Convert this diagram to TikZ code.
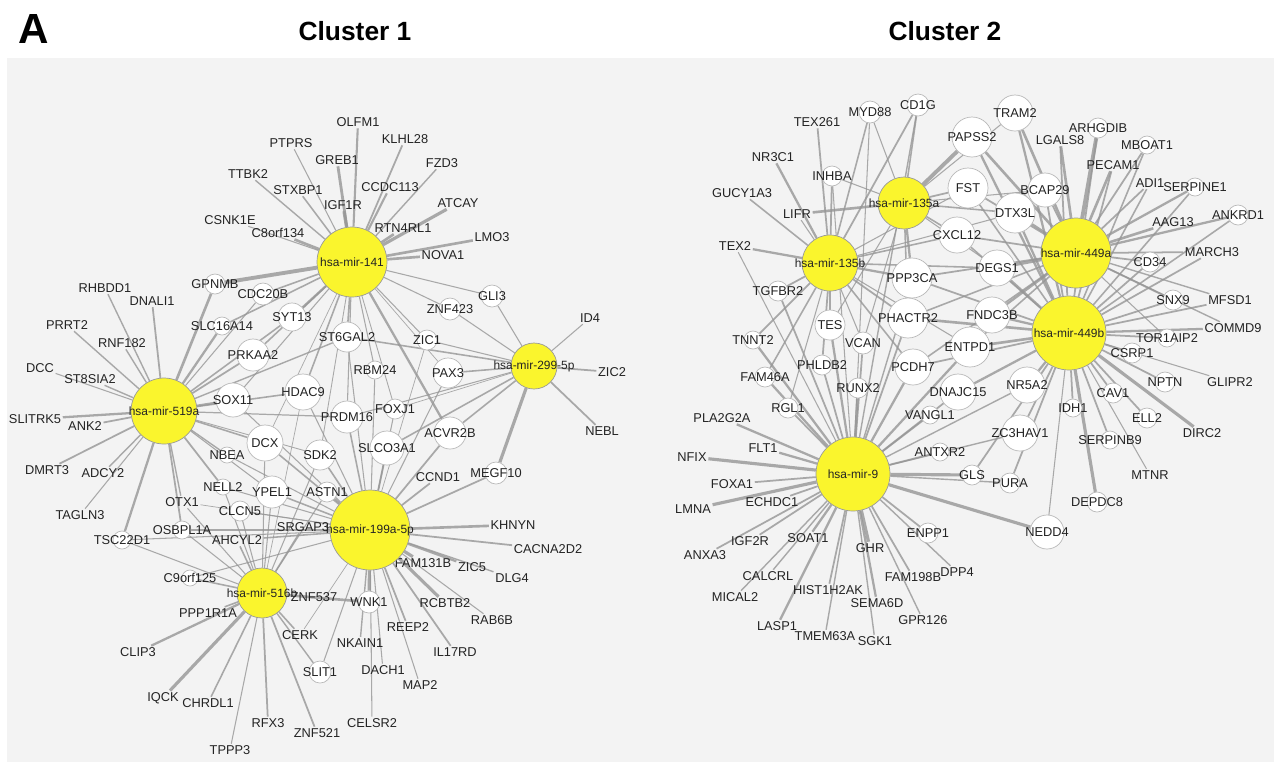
\documentclass[tikz,border=0pt]{standalone}
\usepackage{fontspec}
\setmainfont{Liberation Sans}
\pgfdeclarelayer{edges}
\pgfsetlayers{edges,main}
\newlength\pxu
\setlength\pxu{0.02cm}
\definecolor{panelgray}{RGB}{243,243,243}
\definecolor{edgegray}{RGB}{150,150,150}
\definecolor{hubfill}{RGB}{250,245,45}
\definecolor{ringgray}{RGB}{185,185,185}
\definecolor{genetext}{RGB}{35,35,35}
\newcommand\genefont{\fontsize{7.3}{8.5}\selectfont}
\newcommand\hubfont{\fontsize{6.8}{8}\selectfont}
\begin{document}
\begin{tikzpicture}[x=0.02cm, y=-0.02cm,
    hub/.style={circle, draw=gray!80, fill=hubfill, inner sep=0pt, minimum size=#1\pxu},
    gene/.style={circle, draw=ringgray, fill=white, inner sep=0pt, minimum size=#1\pxu},
    lbl/.style={inner sep=0.8pt, font=\genefont, text=genetext},
    link/.style={draw=edgegray, opacity=0.8},
    every label/.style={font=\genefont, text=genetext, inner sep=0pt},
    clustertitle/.style={font=\fontsize{15}{18}\selectfont\bfseries}]
  \useasboundingbox (0,0) rectangle (1274,762);

  \node[font=\fontsize{24}{28}\selectfont\bfseries] (panelA) at (34,29) {A};
  \node[clustertitle] (title1) at (355,31) {Cluster 1};
  \node[clustertitle] (title2) at (945,31) {Cluster 2};

  % targets shown as text only
  \foreach \nm/\xx/\yy in {PTPRS/291/143, OLFM1/358/122, KLHL28/405/139, GREB1/337/160,
      FZD3/442/163, TTBK2/248/174, STXBP1/298/190, CCDC113/390/187, IGF1R/343/205,
      ATCAY/458/203, CSNK1E/230/220, RTN4RL1/403/228, C8orf134/278/233, LMO3/492/237,
      NOVA1/443/255, RHBDD1/105/288, DNALI1/152/301, ID4/590/318, PRRT2/67/325,
      RNF182/122/343, DCC/40/368, ZIC2/612/372, ST8SIA2/90/379, SLITRK5/35/419,
      ANK2/85/426, NEBL/602/431, DMRT3/47/470, ADCY2/103/473, CCND1/438/477,
      OTX1/182/502, TAGLN3/80/515, KHNYN/513/525, SRGAP3/303/527, AHCYL2/237/540,
      CACNA2D2/548/549, FAM131B/423/563, ZIC5/472/567, DLG4/512/578, ZNF537/314/597,
      RCBTB2/445/603, PPP1R1A/208/613, RAB6B/492/620, REEP2/408/627, CERK/300/635,
      NKAIN1/360/643, CLIP3/138/652, IL17RD/455/652, DACH1/383/670, MAP2/420/685,
      IQCK/163/698, CHRDL1/208/703, RFX3/268/723, CELSR2/372/723, ZNF521/317/733,
      TPPP3/230/750,
      TEX261/817/122, LGALS8/1060/140, NR3C1/773/157, PECAM1/1113/165, ADI1/1150/183,
      GUCY1A3/742/193, LIFR/797/214, AAG13/1173/222, TEX2/735/246, MARCH3/1212/252,
      MFSD1/1230/300, COMMD9/1233/328, GLIPR2/1230/382, PLA2G2A/722/418, DIRC2/1202/433,
      FLT1/763/448, NFIX/692/457, MTNR/1150/475, FOXA1/732/484, ECHDC1/772/502,
      LMNA/693/509, SOAT1/808/538, IGF2R/750/541, GHR/870/548, ANXA3/705/555,
      DPP4/957/572, CALCRL/768/576, FAM198B/913/577, HIST1H2AK/828/590, SEMA6D/877/603,
      MICAL2/735/597, GPR126/923/620, LASP1/777/626, TMEM63A/825/636, SGK1/875/641}
    \node[lbl] (\nm) at (\xx,\yy) {\nm};

  % targets drawn as circles
  \foreach \nm/\xx/\yy/\sz in {GPNMB/215/284/20, CDC20B/263/294/22, GLI3/492/296/22,
      ZNF423/450/309/22, SYT13/292/317/28, SLC16A14/222/326/18, ST6GAL2/347/337/30,
      ZIC1/427/340/20, PRKAA2/253/355/32, RBM24/375/370/18, PAX3/448/373/30,
      HDAC9/303/392/36, SOX11/233/400/34, FOXJ1/395/409/20, PRDM16/347/417/32,
      ACVR2B/450/433/32, DCX/265/443/36, SLCO3A1/387/448/34, NBEA/227/455/16,
      SDK2/320/455/30, MEGF10/496/473/22, NELL2/223/487/16, ASTN1/327/492/20,
      YPEL1/272/492/32, CLCN5/240/511/20, OSBPL1A/182/530/18, TSC22D1/122/540/18,
      C9orf125/190/578/16, WNK1/369/602/22, SLIT1/320/672/22,
      CD1G/918/105/22, MYD88/870/112/22, TRAM2/1015/113/36, ARHGDIB/1098/128/20,
      PAPSS2/972/137/40, MBOAT1/1147/145/18, INHBA/832/176/20, FST/968/188/40,
      SERPINE1/1195/187/18, BCAP29/1045/190/34, DTX3L/1015/213/40, ANKRD1/1238/215/20,
      CXCL12/957/235/36, CD34/1150/262/20, DEGS1/997/268/36, PPP3CA/912/278/40,
      TGFBR2/778/291/20, SNX9/1173/300/20, FNDC3B/992/315/36, PHACTR2/908/318/40,
      TES/830/325/30, TOR1AIP2/1167/338/18, TNNT2/753/340/18, VCAN/863/343/22,
      ENTPD1/970/347/40, CSRP1/1132/353/20, PHLDB2/822/365/20, PCDH7/913/367/36,
      FAM46A/765/377/20, NPTN/1165/382/20, NR5A2/1027/385/36, RUNX2/858/388/20,
      DNAJC15/958/392/36, CAV1/1113/393/20, IDH1/1073/408/18, RGL1/788/408/20,
      VANGL1/930/415/18, ELL2/1147/418/20, ZC3HAV1/1020/433/36, SERPINB9/1110/440/18,
      ANTXR2/940/452/18, GLS/972/475/20, PURA/1010/483/20, DEPDC8/1097/502/20,
      NEDD4/1047/532/34, ENPP1/928/533/20}
    \node[gene=\sz, label=center:\nm] (\nm) at (\xx,\yy) {};

  % microRNAs
  \foreach \nm/\xx/\yy/\sz/\txt in {m141/352/262/70/hsa-mir-141, m519/164/411/66/hsa-mir-519a,
      m299/534/366/46/hsa-mir-299-5p, m199/370/530/80/hsa-mir-199a-5p,
      m516/262/593/50/hsa-mir-516b, m135a/904/203/52/hsa-mir-135a,
      m135b/830/263/56/hsa-mir-135b, m449a/1076/253/70/hsa-mir-449a,
      m449b/1069/333/74/hsa-mir-449b, m9/853/474/74/hsa-mir-9}
    \node[hub=\sz, label={[font=\hubfont]center:\txt}] (\nm) at (\xx,\yy) {};

  \begin{pgfonlayer}{edges}
    \fill[panelgray] (7,58) rectangle (1274,762);
    \foreach \g/\w in {PTPRS/0.6, GREB1/1.6, TTBK2/0.8, STXBP1/0.9, CSNK1E/0.6, C8orf134/1.5,
        GPNMB/2.2, CDC20B/0.9, SYT13/1.2, OLFM1/1.2, KLHL28/1, FZD3/0.8, CCDC113/1.2,
        IGF1R/1.8, ATCAY/1.8, RTN4RL1/1.5, LMO3/1.5, NOVA1/1.5, GLI3/0.6, ZNF423/0.6,
        ST6GAL2/1, ZIC1/0.6, PRKAA2/0.9, SLC16A14/0.9, HDAC9/0.9, RBM24/0.6, ACVR2B/1.3,
        SOX11/0.6, PAX3/0.4, FOXJ1/0.5, PRDM16/0.6, DCX/0.4, SDK2/0.5}
      \draw[link, line width=\w pt] (m141) -- (\g);
    \foreach \g/\w in {RHBDD1/0.8, DNALI1/1, PRRT2/0.8, RNF182/0.8, DCC/0.6, ST8SIA2/0.8,
        SLITRK5/1.3, ANK2/1, DMRT3/1, ADCY2/0.8, TAGLN3/0.6, TSC22D1/1.3, OSBPL1A/1,
        OTX1/0.8, NELL2/1, NBEA/0.8, SOX11/1.3, DCX/0.9, HDAC9/0.9, PRKAA2/1, SLC16A14/1.3,
        GPNMB/1.5, CDC20B/0.6, SYT13/0.9, ST6GAL2/0.8, PRDM16/0.7, YPEL1/0.6, SDK2/0.5}
      \draw[link, line width=\w pt] (m519) -- (\g);
    \foreach \g/\w in {GLI3/0.6, ID4/0.6, ZIC2/1, NEBL/1, MEGF10/1.8, PAX3/0.9, ZIC1/0.6,
        ST6GAL2/0.9, ACVR2B/0.9, SLCO3A1/0.9, ZNF423/0.6, FOXJ1/0.4, PRDM16/0.6}
      \draw[link, line width=\w pt] (m299) -- (\g);
    \foreach \g/\w in {KHNYN/1.5, CACNA2D2/1, FAM131B/1.8, ZIC5/1.3, DLG4/0.8, WNK1/1.8,
        RCBTB2/1.8, RAB6B/0.6, REEP2/1, IL17RD/1, MAP2/0.6, DACH1/0.6, NKAIN1/0.8,
        CELSR2/0.6, MEGF10/1, CCND1/1, ACVR2B/1, SLCO3A1/1.1, ASTN1/1, SDK2/0.9,
        SRGAP3/1, PRDM16/0.9, FOXJ1/0.6, RBM24/0.6, DCX/0.9, YPEL1/0.9, CLCN5/0.6,
        AHCYL2/0.9, HDAC9/0.6, ST6GAL2/0.6, ZIC1/0.4, OSBPL1A/0.6, SOX11/0.6,
        C9orf125/0.6, PAX3/0.6, NBEA/0.6, NELL2/0.6, OTX1/0.4, SLIT1/0.6, CERK/0.4,
        TSC22D1/0.6}
      \draw[link, line width=\w pt] (m199) -- (\g);
    \foreach \g/\w in {PPP1R1A/0.9, CLIP3/1.3, IQCK/1.8, CHRDL1/0.9, RFX3/1, TPPP3/0.6,
        ZNF521/1, CERK/0.9, SLIT1/0.8, ZNF537/1.5, WNK1/1.5, C9orf125/0.9, OSBPL1A/0.6,
        TSC22D1/0.6, OTX1/0.6, NELL2/0.6, CLCN5/0.6, YPEL1/0.6, AHCYL2/0.9, SRGAP3/0.8,
        SDK2/0.6, DCX/0.6, ASTN1/0.6, HDAC9/0.4}
      \draw[link, line width=\w pt] (m516) -- (\g);
    \foreach \g/\w in {MYD88/0.6, CD1G/0.9, INHBA/0.6, LIFR/1.5, PAPSS2/2.2, FST/1,
        CXCL12/0.9, PPP3CA/1.3, DTX3L/0.9, BCAP29/0.6, DEGS1/0.6, PHACTR2/0.9, TES/0.6,
        VCAN/0.6, TRAM2/0.6}
      \draw[link, line width=\w pt] (m135a) -- (\g);
    \foreach \g/\w in {TEX261/1, NR3C1/1.3, GUCY1A3/0.9, TEX2/1.3, TGFBR2/1, LIFR/0.6,
        INHBA/1, MYD88/0.9, CD1G/1, TNNT2/1, TES/1.5, PHLDB2/1, FAM46A/0.9, PPP3CA/1.3,
        PHACTR2/1, CXCL12/0.9, DEGS1/0.9, PCDH7/0.9, RGL1/0.6, VCAN/0.6, ENTPD1/0.6,
        FST/0.6, DTX3L/0.6}
      \draw[link, line width=\w pt] (m135b) -- (\g);
    \foreach \g/\w in {TRAM2/1.5, PAPSS2/1.5, LGALS8/1.5, ARHGDIB/2.2, MBOAT1/1, PECAM1/1.5,
        ADI1/1, SERPINE1/1.3, ANKRD1/1.3, AAG13/1.5, CD34/1, MARCH3/1, SNX9/1, MFSD1/0.8,
        BCAP29/1, DTX3L/1.3, FST/1, CXCL12/1, DEGS1/1.8, FNDC3B/1.3, PPP3CA/1,
        COMMD9/0.8, PHACTR2/0.9, TOR1AIP2/0.6, ENTPD1/0.9, PCDH7/0.9}
      \draw[link, line width=\w pt] (m449a) -- (\g);
    \foreach \g/\w in {ANKRD1/0.9, SERPINE1/0.9, MARCH3/1, CD34/1, SNX9/1, MFSD1/1,
        COMMD9/1.3, TOR1AIP2/1, CSRP1/1, NPTN/1, GLIPR2/0.6, CAV1/1, ELL2/1, DIRC2/1.8,
        SERPINB9/1, MTNR/0.6, IDH1/1, DEPDC8/1.8, NEDD4/0.6, NR5A2/1.3, ZC3HAV1/1,
        PURA/1, GLS/1, DNAJC15/1.3, ENTPD1/1.5, FNDC3B/1.3, DEGS1/1.3, PCDH7/1,
        PHACTR2/1.5, TRAM2/1.3, PAPSS2/1.3, DTX3L/1.3, BCAP29/1, PECAM1/1, ADI1/0.9,
        MBOAT1/0.9, LGALS8/1, FST/0.9, CXCL12/0.9, PPP3CA/1, ARHGDIB/1}
      \draw[link, line width=\w pt] (m449b) -- (\g);
    \foreach \g/\w in {TNNT2/1.3, FAM46A/1.3, PHLDB2/1, TES/1.3, VCAN/1, RUNX2/1.3, RGL1/1,
        PLA2G2A/1.3, FLT1/1.3, NFIX/1.8, FOXA1/1, ECHDC1/1, LMNA/1.8, IGF2R/1, SOAT1/1.3,
        ANXA3/1, CALCRL/0.8, MICAL2/0.8, LASP1/1.3, HIST1H2AK/1, TMEM63A/0.8, GHR/1.8,
        SEMA6D/1.3, SGK1/0.8, FAM198B/1, GPR126/0.8, DPP4/0.8, ENPP1/1, NEDD4/1.8,
        GLS/1.8, PURA/0.8, ANTXR2/1, VANGL1/1, DNAJC15/1, PCDH7/1.3, ENTPD1/1.3,
        ZC3HAV1/0.8, NR5A2/0.8, PHACTR2/1, PPP3CA/0.8, TGFBR2/1, CD1G/0.8, TEX2/0.6,
        INHBA/0.6, MYD88/0.6}
      \draw[link, line width=\w pt] (m9) -- (\g);
  \end{pgfonlayer}
\end{tikzpicture}
\end{document}
